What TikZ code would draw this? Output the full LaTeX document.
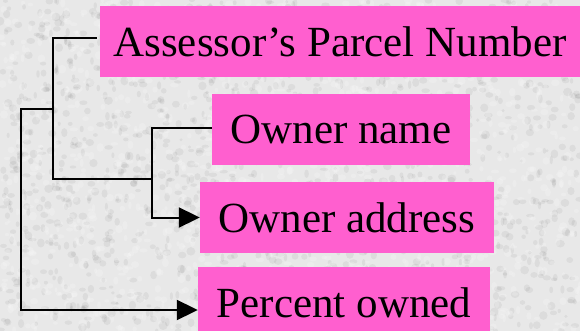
\documentclass[tikz,border=0pt]{standalone}
\usepackage{fontspec}
\setmainfont{Liberation Serif}
\usetikzlibrary{arrows.meta}
\definecolor{boxpink}{RGB}{255,95,207}
\definecolor{paper}{RGB}{232,232,232}
\tikzset{
  field/.style={fill=boxpink, draw=none, minimum height=71pt, inner sep=0pt,
    font=\fontsize{43}{48}\selectfont, text=black},
  link/.style={draw=black, line width=2pt},
  arr/.style={link, -{Triangle[length=21pt,width=20pt]}}
}
\begin{document}
\begin{tikzpicture}[x=1pt,y=-1pt]
  \useasboundingbox (0,0) rectangle (580,331);
  \clip (0,0) rectangle (580,331);
  % mottled paper background
  \fill[paper] (0,0) rectangle (580,331);
  \pgfmathsetseed{11}
  \foreach \i in {1,...,1600} {
    \pgfmathsetmacro\xx{rnd*580}
    \pgfmathsetmacro\yy{rnd*331}
    \pgfmathsetmacro\rx{1.5+rnd*3}
    \pgfmathsetmacro\ry{1.5+rnd*3}
    \fill[black, opacity=0.05] (\xx,\yy) ellipse ({\rx} and {\ry});
  }
  \foreach \i in {1,...,1400} {
    \pgfmathsetmacro\xx{rnd*580}
    \pgfmathsetmacro\yy{rnd*331}
    \pgfmathsetmacro\rx{1.5+rnd*3}
    \pgfmathsetmacro\ry{1.5+rnd*3}
    \fill[white, opacity=0.18] (\xx,\yy) ellipse ({\rx} and {\ry});
  }

  % fields
  \node[field, minimum width=480pt] (apn)  at (340,41.5)  {Assessor’s Parcel Number};
  \node[field, minimum width=258pt] (name) at (341,129.5) {Owner name};
  \node[field, minimum width=294pt] (addr) at (347,217.5) {Owner address};
  \node[field, minimum width=292pt] (pct)  at (344,302.5) {Percent owned};

  % corner and junction points of the bracket lines
  \coordinate (apnL)  at (53,38);
  \coordinate (apnB)  at (53,179);
  \coordinate (join)  at (152,179);
  \coordinate (nameL) at (152,128);
  \coordinate (outT)  at (53,109);
  \coordinate (outL)  at (21,109);
  \coordinate (outB)  at (21,310);

  % brackets
  \draw[link] ([xshift=-3pt]apn.west |- apnL) -- (apnL) -- (apnB) -- (join);
  \draw[arr] (name.west |- nameL) -- (nameL) |- (addr.west);
  \draw[arr] (outT) -- (outL) -- (outB) -- (pct.west |- outB);
\end{tikzpicture}
\end{document}
